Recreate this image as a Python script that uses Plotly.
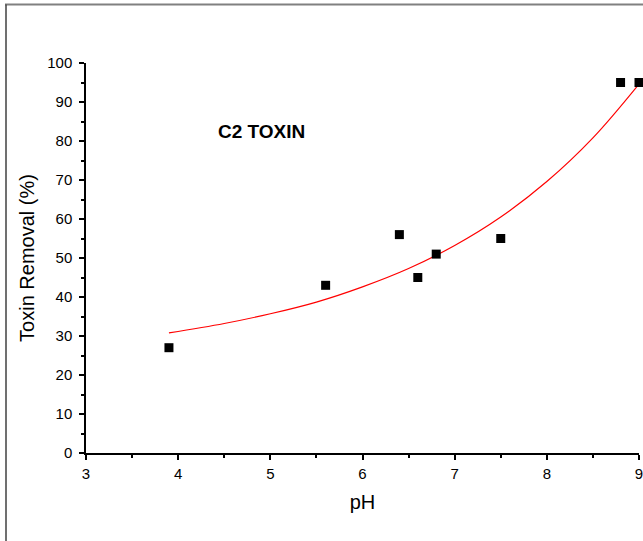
import plotly.graph_objects as go

# Measured data
ph = [3.9, 5.6, 6.4, 6.6, 6.8, 7.5, 8.8, 9.0]
removal = [27, 43, 56, 45, 51, 55, 95, 95]

# Fitted curve
fit_x = [3.9, 4.5, 5.0, 5.5, 6.0, 6.5, 7.0, 7.5, 8.0, 8.5, 9.0]
fit_y = [30.8, 33.2, 35.7, 38.7, 42.6, 47.3, 53.2, 60.5, 69.6, 80.8, 94.6]

x_ticks = [3, 4, 5, 6, 7, 8, 9]
y_ticks = [0, 10, 20, 30, 40, 50, 60, 70, 80, 90, 100]

FONT = "Liberation Sans, Arial"
W, H = 643, 541
L, R, T, B = 86, 4, 63, 88
pw, ph_ = W - L - R, H - T - B

fig = go.Figure()
fig.add_trace(go.Scatter(x=fit_x, y=fit_y, mode="lines",
                         line=dict(color="red", width=1.2, shape="spline"),
                         showlegend=False, hoverinfo="skip"))
fig.add_trace(go.Scatter(x=ph, y=removal, mode="markers",
                         marker=dict(symbol="square", size=9, color="black"),
                         showlegend=False, cliponaxis=False))

axis_common = dict(showline=True, linecolor="black", linewidth=1.5,
                   ticks="outside", tickcolor="black", tickwidth=1.5, ticklen=5,
                   showgrid=False, zeroline=False, mirror=False, automargin=False,
                   ticklabeloverflow="allow",
                   tickfont=dict(family=FONT, size=15, color="black"))

fig.update_xaxes(range=[3, 9], tickvals=x_ticks, ticktext=[str(v) for v in x_ticks],
                 minor=dict(dtick=0.5, ticks="outside", ticklen=3, tickcolor="black", tickwidth=1.5),
                 ticklabelstandoff=1,
                 title=dict(text="pH", font=dict(family=FONT, size=20, color="black"),
                            standoff=14),
                 **axis_common)
fig.update_yaxes(range=[0, 100], tickvals=y_ticks, ticktext=[str(v) for v in y_ticks],
                 minor=dict(dtick=5, ticks="outside", ticklen=3, tickcolor="black", tickwidth=1.5),
                 ticklabelstandoff=4,
                 title=dict(text="Toxin Removal (%)", font=dict(family=FONT, size=20, color="black"),
                            standoff=7),
                 **axis_common)

fig.add_annotation(x=(261 - L) / pw, y=(453 - 131) / ph_, xref="paper", yref="paper",
                   xanchor="center", yanchor="middle",
                   text="<b>C2 TOXIN</b>", showarrow=False,
                   font=dict(family=FONT, size=19, color="black"))

# Frame lines of the original figure box
fig.add_shape(type="line", xref="paper", yref="paper",
              x0=(5 - L) / pw, x1=(W + 5 - L) / pw, y0=(453 - 4.5) / ph_, y1=(453 - 4.5) / ph_,
              line=dict(color="#808080", width=2))
fig.add_shape(type="line", xref="paper", yref="paper",
              x0=(6 - L) / pw, x1=(6 - L) / pw, y0=(453 - 4.5) / ph_, y1=(453 - H - 5) / ph_,
              line=dict(color="#404040", width=1.5))

fig.update_layout(width=W, height=H, margin=dict(l=L, r=R, t=T, b=B),
                  plot_bgcolor="white", paper_bgcolor="white")

fig.write_html("out.html")
